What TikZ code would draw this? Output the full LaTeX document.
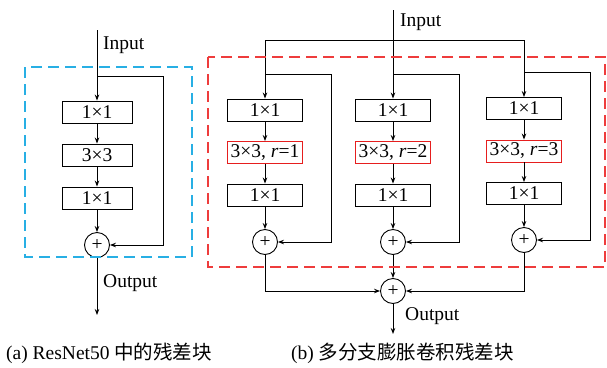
\documentclass[tikz,border=0pt]{standalone}
\usepackage{fontspec}
\setmainfont{Liberation Serif}
\newfontfamily\cjk{Noto Sans CJK SC}
\usetikzlibrary{arrows.meta}
\definecolor{frameblue}{RGB}{40,175,228}
\definecolor{framered}{RGB}{238,60,60}
\definecolor{boxred}{RGB}{230,30,30}
\begin{document}
\begin{tikzpicture}[x=1pt,y=-1pt,
  font=\fontsize{19.5}{22}\selectfont,
  conv/.style={draw, line width=0.9pt, minimum width=70pt, minimum height=22pt, inner sep=0pt},
  bconv/.style={conv, minimum width=75pt},
  dil/.style={bconv, draw=boxred},
  sum/.style={draw, circle, line width=0.9pt, minimum size=25pt, inner sep=0pt},
  flow/.style={line width=0.9pt, -{Stealth[length=6pt,width=4.5pt]}},
  wire/.style={line width=0.9pt},
  frame/.style={dash pattern=on 11pt off 6pt, line width=1.6pt},
  lbl/.style={anchor=west, inner sep=0pt}]
\useasboundingbox (0,0) rectangle (607,367);

% ---------- (a) plain residual block ----------
\node[conv] (a1) at (97,112) {1×1};
\node[conv] (a2) at (97,155) {3×3};
\node[conv] (a3) at (97,198) {1×1};
\node[sum]  (as) at (97,245) {+};
\coordinate (ain)   at (97,30);
\coordinate (askip) at (97,76);
\coordinate (aturn) at (163,76);
\coordinate (aout)  at (97,315);
\node[lbl] (ainl)  at (103,45)  {Input};
\node[lbl] (aoutl) at (103,283) {Output};
\draw[flow] (ain) -- (a1);
\draw[flow] (a1) -- (a2);
\draw[flow] (a2) -- (a3);
\draw[flow] (a3) -- (as);
\draw[flow] (askip) -- (aturn) |- (as);
\draw[flow] (as) -- (aout);
\draw[frame, draw=frameblue] (25,67) rectangle (192,257);

% ---------- (b) multi-branch dilated residual block ----------
\coordinate (bin)    at (393,10);
\coordinate (bsplit) at (393,40);
\node[lbl] (binl) at (400,22) {Input};

% branch r=1
\node[bconv] (b11) at (265,110) {1×1};
\node[dil]   (b12) at (265,152.5) {3×3, \textit{r}=1};
\node[bconv] (b13) at (265,195) {1×1};
\node[sum]   (b1s) at (265,242) {+};
\coordinate (b1skip) at (265,74);
\coordinate (b1turn) at (331,74);

% branch r=2
\node[bconv] (b21) at (393,110) {1×1};
\node[dil]   (b22) at (393,152.5) {3×3, \textit{r}=2};
\node[bconv] (b23) at (393,195) {1×1};
\node[sum]   (b2s) at (393,242) {+};
\coordinate (b2skip) at (393,74);
\coordinate (b2turn) at (459,74);

% branch r=3
\node[bconv] (b31) at (524,108.5) {1×1};
\node[dil]   (b32) at (524,151) {3×3, \textit{r}=3};
\node[bconv] (b33) at (524,193.5) {1×1};
\node[sum]   (b3s) at (524,240) {+};
\coordinate (b3skip) at (524,72);
\coordinate (b3turn) at (590,72);

% input fan-out
\draw[flow] (bin) -- (b21);
\draw[flow] (bsplit) -| (b11);
\draw[flow] (bsplit) -| (b31);

% branch chains and shortcuts
\foreach \b in {1,2,3}{
  \draw[flow] (b\b1) -- (b\b2);
  \draw[flow] (b\b2) -- (b\b3);
  \draw[flow] (b\b3) -- (b\b s);
  \draw[flow] (b\b skip) -- (b\b turn) |- (b\b s);
}

% merge
\node[sum] (bs) at (393,291) {+};
\coordinate (bout) at (393,334);
\node[lbl] (boutl) at (405,316) {Output};
\draw[flow] (b1s) |- (bs);
\draw[flow] (b2s) -- (bs);
\draw[flow] (b3s) |- (bs);
\draw[flow] (bs) -- (bout);
\draw[frame, draw=framered] (208,57) rectangle (605,267);

% captions
\node[lbl] (capa) at (6,353)   {(a) ResNet50 {\cjk 中的残差块}};
\node[lbl] (capb) at (291,353) {(b) {\cjk 多分支膨胀卷积残差块}};
\end{tikzpicture}
\end{document}
